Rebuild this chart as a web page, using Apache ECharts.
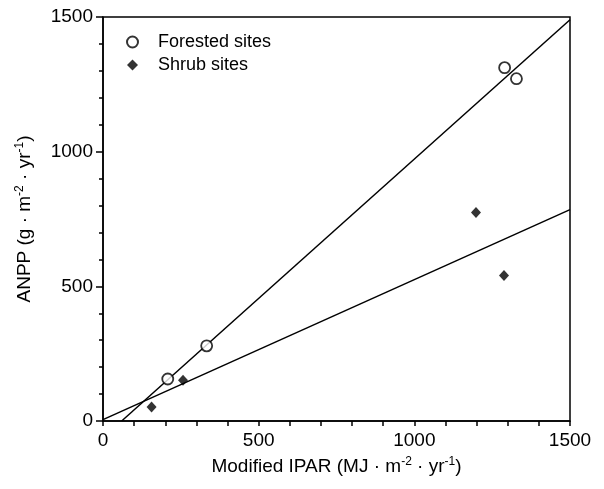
<!DOCTYPE html>
<html>
<head>
<meta charset="utf-8">
<script src="https://cdn.jsdelivr.net/npm/echarts@6/dist/echarts.min.js"></script>
<style>
html, body { margin: 0; padding: 0; background: #fff; }
#chart { width: 604px; height: 489px; }
</style>
</head>
<body>
<div id="chart"></div>
<script>
// forested sites (open circles)
var forestX = [208, 333, 1290, 1328];
var forestY = [156, 279, 1312, 1271];
// shrub sites (filled diamonds)
var shrubX = [156, 257, 1198, 1288];
var shrubY = [52, 151, 774, 540];
// regression line end points
var forestFitX = [60, 1500];
var forestFitY = [0, 1490];
var shrubFitX = [0, 1500];
var shrubFitY = [5, 785];

function pairs(xs, ys) {
    return xs.map(function (x, i) { return [x, ys[i]]; });
}

var font = 'Liberation Sans, Arial, Helvetica, sans-serif';
var supStyle = { fontSize: 12, verticalAlign: 'top', padding: [0, 0, 9, 0], fontFamily: font, color: '#000' };

var chart = echarts.init(document.getElementById('chart'));
chart.setOption({
    animation: false,
    textStyle: { fontFamily: font, color: '#000' },
    grid: {
        show: true,
        left: 103,
        right: 34,
        top: 17,
        bottom: 68,
        borderColor: '#000',
        borderWidth: 1.5,
        backgroundColor: '#fff'
    },
    legend: {
        orient: 'vertical',
        left: 121,
        top: 28,
        itemGap: 5,
        itemWidth: 11,
        itemHeight: 11,
        textStyle: { fontSize: 18, color: '#000', fontFamily: font, padding: [0, 0, 0, 15] },
        data: ['Forested sites', 'Shrub sites']
    },
    xAxis: {
        type: 'value',
        min: 0,
        max: 1500,
        interval: 100,
        name: 'Modified IPAR (MJ · m{s|-2} · yr{s|-1})',
        nameLocation: 'middle',
        nameGap: 35,
        nameTextStyle: { fontSize: 19, color: '#000', fontFamily: font, rich: { s: supStyle } },
        splitLine: { show: false },
        axisLine: { lineStyle: { color: '#000', width: 1.5 } },
        axisTick: { length: 5, lineStyle: { color: '#000', width: 1.5 } },
        axisLabel: {
            fontSize: 19,
            color: '#000',
            margin: 10,
            formatter: function (v) { return v % 500 === 0 ? String(v) : ''; }
        }
    },
    yAxis: {
        type: 'value',
        min: 0,
        max: 1500,
        interval: 500,
        name: 'ANPP (g · m{s|-2} · yr{s|-1})',
        nameLocation: 'middle',
        nameGap: 68,
        nameTextStyle: { fontSize: 19, color: '#000', fontFamily: font, rich: { s: supStyle } },
        splitLine: { show: false },
        axisLine: { lineStyle: { color: '#000', width: 1.5 } },
        axisTick: { length: 7, lineStyle: { color: '#000', width: 1.5 } },
        minorTick: { show: true, splitNumber: 5, length: 4, lineStyle: { color: '#000', width: 1.5 } },
        minorSplitLine: { show: false },
        axisLabel: {
            fontSize: 19,
            color: '#000',
            margin: 10,
            formatter: function (v) { return String(v); }
        }
    },
    series: [
        {
            name: 'Forested sites',
            type: 'scatter',
            symbol: 'circle',
            symbolSize: 11,
            itemStyle: { color: '#fff', borderColor: '#000', borderWidth: 1.8 },
            data: pairs(forestX, forestY),
            z: 5
        },
        {
            name: 'Shrub sites',
            type: 'scatter',
            symbol: 'diamond',
            symbolSize: [10, 11],
            itemStyle: { color: '#000' },
            data: pairs(shrubX, shrubY),
            z: 5
        },
        {
            name: 'forest fit',
            type: 'line',
            showSymbol: false,
            lineStyle: { color: '#000', width: 1.5 },
            data: pairs(forestFitX, forestFitY),
            z: 3
        },
        {
            name: 'shrub fit',
            type: 'line',
            showSymbol: false,
            lineStyle: { color: '#000', width: 1.5 },
            data: pairs(shrubFitX, shrubFitY),
            z: 3
        }
    ]
});
</script>
</body>
</html>
